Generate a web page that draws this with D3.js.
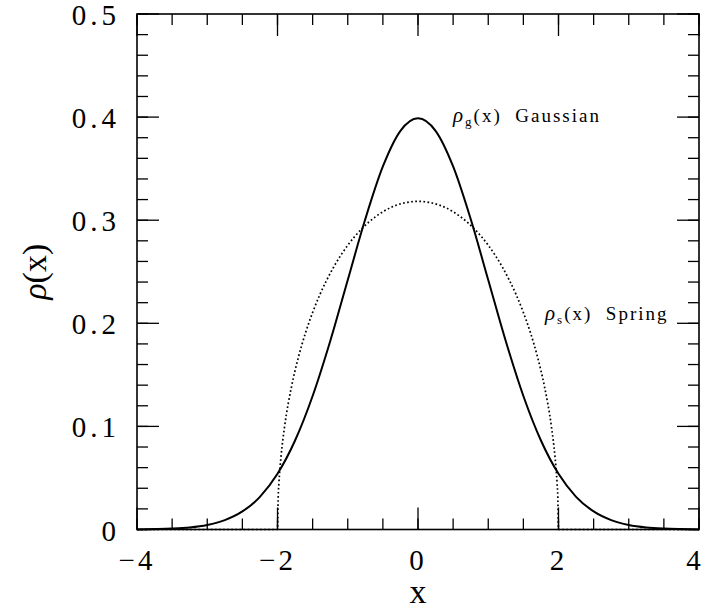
<!DOCTYPE html>
<html>
<head>
<meta charset="utf-8">
<script src="https://cdn.jsdelivr.net/npm/d3@7"></script>
<style>
  body { margin: 0; background: #fff; }
  svg text { font-family: "Liberation Serif", serif; fill: #000; }
</style>
</head>
<body>
<div id="chart"></div>
<script>
  // gaussian curve
  var gaussX = [-4, -3.75, -3.5, -3.25, -3, -2.75, -2.5, -2.25, -2, -1.75, -1.5, -1.25, -1, -0.75, -0.5, -0.25,
    0, 0.25, 0.5, 0.75, 1, 1.25, 1.5, 1.75, 2, 2.25, 2.5, 2.75, 3, 3.25, 3.5, 3.75, 4];
  var gaussY = [0.0001, 0.0004, 0.0009, 0.002, 0.0044, 0.0091, 0.0175, 0.0317, 0.054, 0.0863, 0.1295, 0.1826, 0.242, 0.3011, 0.3521, 0.3867,
    0.3989, 0.3867, 0.3521, 0.3011, 0.242, 0.1826, 0.1295, 0.0863, 0.054, 0.0317, 0.0175, 0.0091, 0.0044, 0.002, 0.0009, 0.0004, 0.0001];

  // spring curve (dotted)
  var springX = [-4, -2, -1.99, -1.98, -1.95, -1.9, -1.8, -1.7, -1.6, -1.5, -1.4, -1.2, -1, -0.8, -0.6, -0.4, -0.2,
    0, 0.2, 0.4, 0.6, 0.8, 1, 1.2, 1.4, 1.5, 1.6, 1.7, 1.8, 1.9, 1.95, 1.98, 1.99, 2, 4];
  var springY = [0, 0, 0.0318, 0.0449, 0.0707, 0.0994, 0.1387, 0.1677, 0.191, 0.2105, 0.2273, 0.2546, 0.2757, 0.2917, 0.3036, 0.3119, 0.3167,
    0.3183, 0.3167, 0.3119, 0.3036, 0.2917, 0.2757, 0.2546, 0.2273, 0.2105, 0.191, 0.1677, 0.1387, 0.0994, 0.0707, 0.0449, 0.0318, 0, 0];

  var xMajor = [-4, -2, 0, 2, 4];
  var xMinor = d3.range(-4, 4.01, 0.5);
  var yMajor = [0, 0.1, 0.2, 0.3, 0.4, 0.5];
  var yMinor = d3.range(0, 0.501, 0.02);

  var W = 706, H = 611;
  var margin = {top: 14, right: 7, bottom: 81.5, left: 137};
  var width = W - margin.left - margin.right,
    height = H - margin.top - margin.bottom;

  var svg = d3.select("#chart").append("svg")
    .attr("width", W)
    .attr("height", H)
    .append("g")
    .attr("transform", "translate(" + margin.left + "," + margin.top + ")");

  var x = d3.scaleLinear().domain([-4, 4]).range([0, width]);
  var y = d3.scaleLinear().domain([0, 0.5]).range([height, 0]);

  var majorLen = 22, minorLen = 11;

  // ticks, all pointing inward on the four sides
  function ticks(vals, len) {
    vals.forEach(v => {
      var px = x(v);
      svg.append("line").attr("x1", px).attr("x2", px).attr("y1", height).attr("y2", height - len);
      svg.append("line").attr("x1", px).attr("x2", px).attr("y1", 0).attr("y2", len);
    });
  }
  function yticks(vals, len) {
    vals.forEach(v => {
      var py = y(v);
      svg.append("line").attr("x1", 0).attr("x2", len).attr("y1", py).attr("y2", py);
      svg.append("line").attr("x1", width).attr("x2", width - len).attr("y1", py).attr("y2", py);
    });
  }
  ticks(xMinor, minorLen);
  ticks(xMajor, majorLen);
  yticks(yMinor, minorLen);
  yticks(yMajor, majorLen);
  svg.selectAll("line").attr("stroke", "#000").attr("stroke-width", 1.3);

  // frame
  svg.append("rect")
    .attr("width", width).attr("height", height)
    .attr("fill", "none").attr("stroke", "#000").attr("stroke-width", 1.6);

  // tick labels
  svg.selectAll(".xlab").data(xMajor).enter().append("text")
    .attr("class", "xlab")
    .attr("x", d => x(d) + (d === 4 ? -4 : 0))
    .attr("y", height + 40)
    .attr("text-anchor", "middle")
    .attr("font-size", "29px")
    .attr("letter-spacing", "3px")
    .text(d => d < 0 ? "\u2212" + Math.abs(d) : d);

  svg.selectAll(".ylab").data(yMajor).enter().append("text")
    .attr("class", "ylab")
    .attr("x", -17)
    .attr("y", d => y(d) + 11)
    .attr("text-anchor", "end")
    .attr("font-size", "29px")
    .attr("letter-spacing", "4px")
    .text(d => d === 0 ? "0" : d3.format(".1f")(d));

  // axis titles
  svg.append("text")
    .attr("x", width / 2)
    .attr("y", height + 73)
    .attr("text-anchor", "middle")
    .attr("font-size", "34px")
    .text("x");

  var yt = svg.append("text")
    .attr("transform", "translate(" + (-91) + "," + (height / 2) + ") rotate(-90)")
    .attr("text-anchor", "middle")
    .attr("font-size", "34px");
  yt.append("tspan").attr("font-style", "italic").text("\u03c1");
  yt.append("tspan").text("(x)");

  // curves
  var gaussLine = d3.line()
    .x((d, i) => x(gaussX[i]))
    .y(d => y(d))
    .curve(d3.curveMonotoneX);
  svg.append("path")
    .attr("d", gaussLine(gaussY))
    .attr("fill", "none")
    .attr("stroke", "#000")
    .attr("stroke-width", 2);

  var springLine = d3.line()
    .x((d, i) => x(springX[i]))
    .y(d => y(d))
    .curve(d3.curveMonotoneX);
  svg.append("path")
    .attr("d", springLine(springY))
    .attr("fill", "none")
    .attr("stroke", "#000")
    .attr("stroke-width", 1.7)
    .attr("stroke-dasharray", "1.7,2.4");

  // curve labels
  function label(px, py, sub, rest) {
    var t = svg.append("text")
      .attr("x", px).attr("y", py)
      .attr("font-size", "19px")
      .attr("letter-spacing", "2px");
    t.append("tspan").attr("font-style", "italic").attr("font-size", "21px").text("\u03c1");
    t.append("tspan").attr("font-size", "13px").attr("dy", 4).text(sub);
    t.append("tspan").attr("dy", -4).text(rest);
  }
  label(453 - margin.left, 122 - margin.top, "g", "(x)\u00a0 Gaussian");
  label(545 - margin.left, 320 - margin.top, "s", "(x)\u00a0 Spring");
</script>
</body>
</html>
